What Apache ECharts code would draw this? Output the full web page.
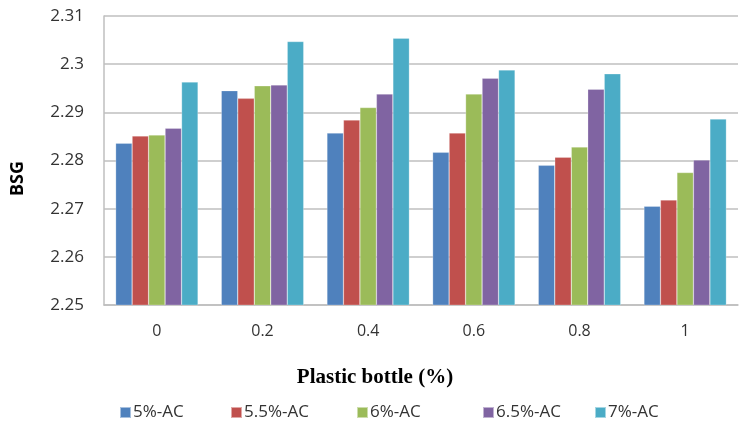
<!DOCTYPE html>
<html><head><meta charset="utf-8">
<script src="https://cdn.jsdelivr.net/npm/echarts@6/dist/echarts.min.js"></script>
<style>html,body{margin:0;padding:0;background:#fff}#c{width:739px;height:423px}</style>
</head><body><div id="c"></div>
<script>
const categories = ['0','0.2','0.4','0.6','0.8','1'];
const seriesNames = ['5%-AC','5.5%-AC','6%-AC','6.5%-AC','7%-AC'];
const ac5  = [2.2836, 2.2945, 2.2857, 2.2817, 2.2790, 2.2705];
const ac55 = [2.2851, 2.2929, 2.2884, 2.2857, 2.2807, 2.2718];
const ac6  = [2.2853, 2.2955, 2.2910, 2.2938, 2.2828, 2.2775];
const ac65 = [2.2867, 2.2957, 2.2938, 2.2971, 2.2948, 2.2801];
const ac7  = [2.2963, 2.3047, 2.3054, 2.2988, 2.2980, 2.2886];
const yTicks = ['2.25','2.26','2.27','2.28','2.29','2.3','2.31'];
const colors = ['#4F81BD','#C0504D','#9BBB59','#8064A2','#4BACC6'];
const values = [ac5, ac55, ac6, ac65, ac7];
const legendLefts = [119, 230, 356, 482, 594];

const chart = echarts.init(document.getElementById('c'));
chart.setOption({
  animation: false,
  color: colors,
  grid: {left: 104, right: 1, top: 16, bottom: 118, containLabel: false},
  legend: seriesNames.map((n, i) => ({
    left: legendLefts[i], top: 404, padding: 0, itemWidth: 11, itemHeight: 11,
    icon: 'rect',
    textStyle: {fontFamily: 'Open Sans', fontSize: 17, color: '#333', padding: [0,0,0,-3]},
    data: [n]
  })),
  xAxis: {
    type: 'category', data: categories,
    name: 'Plastic bottle (%)', nameLocation: 'middle', nameGap: 62,
    nameTextStyle: {fontFamily: 'Liberation Serif', fontWeight: 'bold', fontSize: 21, color: '#000', padding: [0, 92, 0, 0]},
    axisLine: {lineStyle: {color: '#BFBFBF', width: 1.5}},
    axisTick: {show: false},
    axisLabel: {fontFamily: 'Open Sans', fontSize: 16, color: '#333', margin: 18}
  },
  yAxis: {
    type: 'value', min: 2.25, max: 2.31, interval: 0.01,
    name: 'BSG', nameLocation: 'middle', nameGap: 77, nameRotate: 90,
    nameTextStyle: {fontFamily: 'Open Sans', fontWeight: 'bold', fontSize: 18, color: '#000', padding: [0, 36, 0, 0]},
    axisLine: {show: true, lineStyle: {color: '#BFBFBF', width: 1.5}},
    axisTick: {show: false},
    splitLine: {lineStyle: {color: '#BFBFBF', width: 1.5}},
    axisLabel: {fontFamily: 'Open Sans', fontSize: 17, color: '#333', margin: 20,
      formatter: function (v) { const s = yTicks.find(t => Math.abs(parseFloat(t) - v) < 1e-6); return s || ''; }}
  },
  series: seriesNames.map((n, i) => ({
    name: n, type: 'bar', data: values[i], barGap: '0%', barCategoryGap: '22%',
    itemStyle: {color: colors[i], borderColor: 'rgba(255,255,255,0.5)', borderWidth: 0.5}
  }))
});
</script></body></html>
